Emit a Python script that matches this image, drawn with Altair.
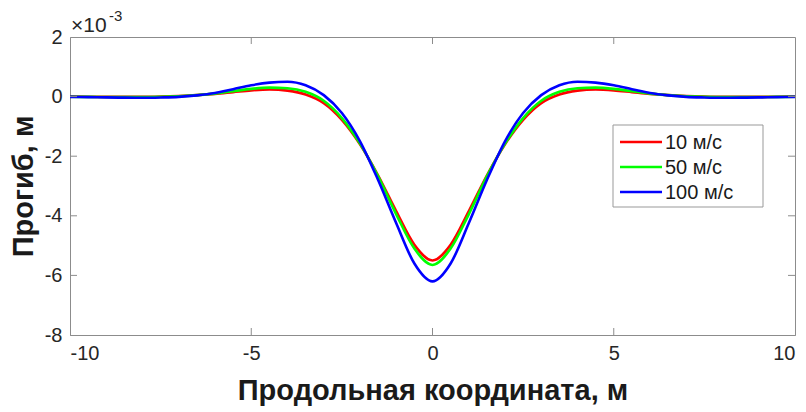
import altair as alt
import pandas as pd

x_m = [-10.0, -9.5, -9.0, -8.5, -8.0, -7.5, -7.0, -6.5, -6.0, -5.5, -5.0, -4.5, -4.0, -3.5, -3.0,
       -2.5, -2.0, -1.5, -1.0, -0.5, 0.0, 0.5, 1.0, 1.5, 2.0, 2.5, 3.0, 3.5, 4.0, 4.5, 5.0,
       5.5, 6.0, 6.5, 7.0, 7.5, 8.0, 8.5, 9.0, 9.5, 10.0]

# deflection, x 1e-3 m
v10 = [0.0, -0.005, -0.01, -0.01, -0.01, 0.00, 0.02, 0.05, 0.09, 0.15, 0.21, 0.24, 0.20, 0.07, -0.22,
       -0.78, -1.60, -2.65, -3.85, -4.97, -5.50, -4.97, -3.85, -2.65, -1.60, -0.78, -0.22, 0.07, 0.20,
       0.24, 0.21, 0.15, 0.09, 0.05, 0.02, 0.00, -0.01, -0.01, -0.01, -0.005, 0.0]
v50 = [-0.007, -0.01, -0.015, -0.015, -0.015, -0.01, 0.01, 0.05, 0.10, 0.18, 0.26, 0.30, 0.28, 0.16, -0.14,
       -0.72, -1.58, -2.68, -3.95, -5.10, -5.65, -5.10, -3.95, -2.68, -1.58, -0.72, -0.14, 0.16, 0.28,
       0.30, 0.26, 0.18, 0.10, 0.05, 0.01, -0.01, -0.015, -0.015, -0.015, -0.01, -0.007]
v100 = [-0.009, -0.018, -0.027, -0.036, -0.04, -0.03, -0.01, 0.04, 0.12, 0.25, 0.38, 0.47, 0.50, 0.38, 0.05,
        -0.55, -1.50, -2.80, -4.25, -5.60, -6.20, -5.60, -4.25, -2.80, -1.50, -0.55, 0.05, 0.38, 0.50,
        0.47, 0.38, 0.25, 0.12, 0.04, -0.01, -0.03, -0.04, -0.036, -0.027, -0.018, -0.009]

series_names = ["10 м/с", "50 м/с", "100 м/с"]
series_colors = ["#ff0000", "#00ff00", "#0000ff"]
x_ticks = [-10, -5, 0, 5, 10]
y_ticks = [-8, -6, -4, -2, 0, 2]

W, H = 725, 298
FONT = "Liberation Sans"

rows = []
for name, vals in zip(series_names, [v10, v50, v100]):
    for xv, yv in zip(x_m, vals):
        rows.append({"x": xv, "y": yv, "series": name})
df = pd.DataFrame(rows)

xscale = alt.Scale(domain=[-10, 10], nice=False, zero=False)
yscale = alt.Scale(domain=[-8, 2], nice=False, zero=False)
cscale = alt.Scale(domain=series_names, range=series_colors)
xaxis = alt.Axis(values=x_ticks, title="Продольная координата, м", labelExpr="'' + datum.value")
yaxis = alt.Axis(values=y_ticks, title="Прогиб, м", labelExpr="'' + datum.value")

lines = alt.Chart(df).mark_line(strokeWidth=2.6, interpolate="monotone").encode(
    x=alt.X("x:Q", scale=xscale, axis=xaxis),
    y=alt.Y("y:Q", scale=yscale, axis=yaxis),
    color=alt.Color("series:N", scale=cscale, legend=None),
    order=alt.Order("x:Q"),
)

# inward ticks (box style)
xt = pd.DataFrame({"x": x_ticks[1:-1]})
yt = pd.DataFrame({"y": y_ticks[1:-1]})
tick_col = "#8c8c8c"
xt_bot = alt.Chart(xt).mark_rule(color=tick_col).encode(
    x=alt.X("x:Q", scale=xscale, axis=xaxis), y=alt.value(H), y2=alt.value(H - 7))
xt_top = alt.Chart(xt).mark_rule(color=tick_col).encode(
    x=alt.X("x:Q", scale=xscale, axis=xaxis), y=alt.value(0), y2=alt.value(7))
yt_left = alt.Chart(yt).mark_rule(color=tick_col).encode(
    y=alt.Y("y:Q", scale=yscale, axis=yaxis), x=alt.value(0), x2=alt.value(7))
yt_right = alt.Chart(yt).mark_rule(color=tick_col).encode(
    y=alt.Y("y:Q", scale=yscale, axis=yaxis), x=alt.value(W), x2=alt.value(W - 7))

# exponent label
exp_main = alt.Chart(pd.DataFrame({"s": ["×10"]})).mark_text(
    font=FONT, fontSize=21, color="#262626", align="left", baseline="alphabetic"
).encode(text="s:N", x=alt.value(1), y=alt.value(-5))
exp_sup = alt.Chart(pd.DataFrame({"s": ["-3"]})).mark_text(
    font=FONT, fontSize=15, color="#262626", align="left", baseline="alphabetic"
).encode(text="s:N", x=alt.value(39), y=alt.value(-16))

# legend (manual, MATLAB style)
leg_box = alt.Chart(pd.DataFrame({"a": [0]})).mark_rect(
    fill="white", stroke="#999999", strokeWidth=1
).encode(x=alt.value(543), x2=alt.value(693), y=alt.value(88), y2=alt.value(170))
leg_layers = [leg_box]
for i, name in enumerate(series_names):
    d = pd.DataFrame({"series": [name]})
    yy = 105 + i * 25
    leg_layers.append(alt.Chart(d).mark_rule(strokeWidth=2.6).encode(
        color=alt.Color("series:N", scale=cscale, legend=None),
        x=alt.value(550), x2=alt.value(592), y=alt.value(yy)))
    leg_layers.append(alt.Chart(d).mark_text(
        font=FONT, fontSize=20, color="#1a1a1a", align="left", baseline="middle"
    ).encode(text="series:N", x=alt.value(595), y=alt.value(yy + 1)))

chart = alt.layer(
    lines, xt_bot, xt_top, yt_left, yt_right, exp_main, exp_sup, *leg_layers
).properties(
    width=W, height=H,
    autosize=alt.AutoSizeParams(type="none"),
    padding={"left": 70, "top": 37, "right": 11, "bottom": 77},
).configure_view(
    stroke="#8c8c8c", strokeWidth=1
).configure_axis(
    grid=False, tickSize=0, domainColor="#8c8c8c", domainWidth=1,
    labelFont=FONT, labelFontSize=20, labelColor="#262626",
    titleFont=FONT, titleFontSize=29, titleFontWeight="bold", titleColor="#1a1a1a",
).configure_axisX(
    labelPadding=8, titlePadding=13,
).configure_axisY(
    labelPadding=8, titlePadding=6,
)

chart.save("out.html", embed_options={"renderer": "svg", "actions": False})
